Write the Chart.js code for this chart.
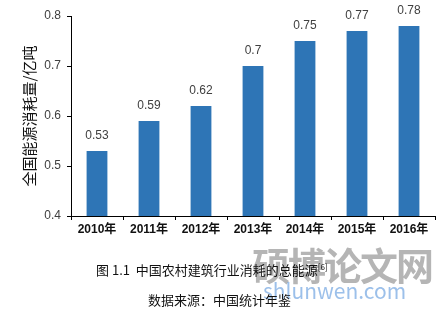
<!DOCTYPE html>
<html>
<head>
<meta charset="utf-8">
<script src="https://cdn.jsdelivr.net/npm/chart.js@4"></script>
<style>
  body { margin: 0; background: #fff; width: 445px; height: 311px; position: relative; overflow: hidden; }
  #wrap { position: absolute; left: 0; top: 0; width: 445px; height: 245px; }
  .cap { position: absolute; font-family: "Noto Sans CJK SC", sans-serif; color: #111; white-space: nowrap; }
  .wm { position: absolute; font-family: "Noto Sans CJK SC", sans-serif; white-space: nowrap; }
</style>
</head>
<body>
<div id="wrap"><canvas id="chart" width="445" height="245"></canvas></div>
<div class="wm" style="left:252px; top:236px; font-size:38px; font-weight:bold; color:rgba(120,120,120,0.55); letter-spacing:-2px;">硕博论文网</div>
<div class="wm" style="left:263px; top:275px; font-size:21px; color:rgba(90,150,220,0.6);">shlunwen.com</div>
<div class="cap" style="left:96px; top:260px; font-size:13px;">图 1.1&nbsp; 中国农村建筑行业消耗的总能源<sup style="font-size:8px">[6]</sup></div>
<div class="cap" style="left:148px; top:290px; font-size:13px;">数据来源：中国统计年鉴</div>
<script>
const years = ["2010年", "2011年", "2012年", "2013年", "2014年", "2015年", "2016年"];
const energyUse = [0.53, 0.59, 0.62, 0.7, 0.75, 0.77, 0.78];
const yTicks = [0.4, 0.5, 0.6, 0.7, 0.8];

// value labels above each bar
const barLabels = {
    id: "barLabels",
    afterDatasetsDraw(chart) {
        const ctx = chart.ctx;
        const meta = chart.getDatasetMeta(0);
        ctx.save();
        ctx.font = "12px 'Liberation Sans', sans-serif";
        ctx.fillStyle = "#404040";
        ctx.textAlign = "center";
        ctx.textBaseline = "bottom";
        meta.data.forEach((bar, i) => {
            ctx.fillText(String(energyUse[i]), bar.x, bar.y - 9);
        });
        ctx.restore();
    }
};

new Chart(document.getElementById("chart"), {
    type: "bar",
    data: {
        labels: years,
        datasets: [{
            data: energyUse,
            backgroundColor: "#2e75b6",
            barPercentage: 0.8,
            categoryPercentage: 0.5
        }]
    },
    options: {
        responsive: false,
        animation: false,
        layout: { padding: { left: 20, top: 16, right: 10, bottom: 0 } },
        plugins: { legend: { display: false }, tooltip: { enabled: false } },
        scales: {
            x: {
                grid: { drawOnChartArea: false, tickLength: 4, color: "#000" },
                border: { color: "#000" },
                ticks: { color: "#111", font: { size: 12, weight: "bold", family: "'Liberation Sans', 'Noto Sans CJK SC', sans-serif" }, padding: 2 },
                afterFit(axis) { axis.height = 29; }
            },
            y: {
                min: 0.4,
                max: 0.8,
                afterBuildTicks(axis) { axis.ticks = yTicks.map(v => ({ value: v })); },
                grid: { drawOnChartArea: false, tickLength: 4, color: "#000" },
                border: { color: "#000" },
                ticks: {
                    color: "#404040",
                    font: { size: 12, family: "'Liberation Sans', sans-serif" },
                    padding: 6,
                    callback: v => String(Math.round(v * 10) / 10)
                },
                title: {
                    display: true,
                    text: "全国能源消耗量/亿吨",
                    color: "#111",
                    font: { size: 15, family: "'Noto Sans CJK SC', sans-serif" },
                    padding: 0
                },
                afterFit(axis) { axis.width = 51; }
            }
        }
    },
    plugins: [barLabels]
});
</script>
</body>
</html>
